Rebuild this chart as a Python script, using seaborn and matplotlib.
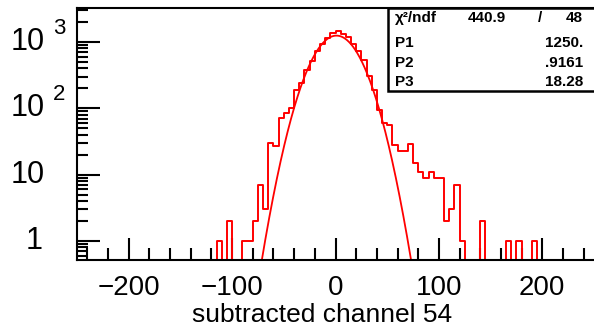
import numpy as np
import pandas as pd
import matplotlib
matplotlib.use("Agg")
import matplotlib.pyplot as plt
import matplotlib.transforms as mtrans
from matplotlib.ticker import MultipleLocator, LogLocator, NullFormatter
from matplotlib.patches import Rectangle
import seaborn as sns

# histogram contents, 5 unit bins, left edges -120 .. 195 (all other bins empty)
bin_lo = list(range(-120, 200, 5))
counts = [0, 1, 0, 2, 0, 0, 1, 1, 2, 7,
          3, 30, 27, 72, 85, 100, 190, 245, 380, 520,
          730, 920, 1150, 1350, 1450, 1300, 1200, 940, 730, 530,
          310, 190, 95, 60, 56, 28, 23, 23, 29, 15,
          11, 9, 11, 9, 9, 2, 3, 7, 1, 0,
          0, 0, 2, 0, 0, 0, 0, 1, 0, 1,
          0, 0, 1, 0]

# gaussian fit, as printed in the stat box
p1, p2, p3 = 1250.0, 0.9161, 18.28
box_rows = [("χ²/ndf", "440.9", "48"), ("P1", "1250.", None),
            ("P2", ".9161", None), ("P3", "18.28", None)]
y_labels = [(1, "1", None), (10, "10", None), (100, "10", "2"), (1000, "10", "3")]

sns.set_theme(style="white")
plt.rcParams["font.family"] = ["Liberation Sans", "DejaVu Sans"]
plt.rcParams["text.color"] = "black"

W, H = 594, 333
fig = plt.figure(figsize=(W / 100, H / 100), dpi=100)
ax = fig.add_axes([77 / W, 1 - 260 / H, 517 / W, 252 / H])

edges = np.arange(-250, 255, 5)
full = np.zeros(len(edges) - 1)
full[(np.array(bin_lo) + 250) // 5] = counts
df = pd.DataFrame({"x": edges[:-1] + 2.5, "n": full})

sns.histplot(data=df, x="x", weights="n", bins=edges.tolist(), element="step",
             fill=False, color="red", lw=1.4, ax=ax)

xf = np.linspace(-80, 80, 400)
fit = pd.DataFrame({"x": xf, "y": p1 * np.exp(-0.5 * ((xf - p2) / p3) ** 2)})
sns.lineplot(data=fit, x="x", y="y", color="red", lw=1.3, ax=ax)

ax.set_yscale("log")
ax.set_xlim(-250, 250)
ax.set_ylim(0.517, 3260)
ax.set_xlabel("")
ax.set_ylabel("")

ax.xaxis.set_major_locator(MultipleLocator(100))
ax.xaxis.set_minor_locator(MultipleLocator(20))
ax.yaxis.set_major_locator(LogLocator(base=10, numticks=10))
ax.yaxis.set_minor_locator(LogLocator(base=10, subs=np.arange(2, 10), numticks=20))
ax.yaxis.set_minor_formatter(NullFormatter())
ax.tick_params(axis="x", which="major", direction="in", length=16, width=1.5,
               color="black", pad=11, labelsize=20, labelcolor="black")
ax.tick_params(axis="x", which="minor", direction="in", length=8.5, width=1.5,
               color="black")
ax.tick_params(axis="y", which="major", direction="in", length=16.5, width=1.5,
               color="black", labelleft=False)
ax.tick_params(axis="y", which="minor", direction="in", length=8, width=1.5,
               color="black")
ax.tick_params(bottom=True, left=True, top=False, right=False, which="both")

for s in ["left", "bottom", "top"]:
    ax.spines[s].set_color("black")
    ax.spines[s].set_linewidth(1.5)
ax.spines["right"].set_visible(False)

# y labels: 1, 10, 10^2, 10^3
ytr = ax.get_yaxis_transform()
for val, base, sup in y_labels:
    xb = (45 - 77) / 517 if base == "10" else (43 - 77) / 517
    ax.text(xb, val, base, transform=ytr, ha="right", va="center", fontsize=22)
    if sup:
        t = mtrans.offset_copy(ytr, fig=fig, x=0, y=14, units="dots")
        ax.text((53 - 77) / 517, val, sup, transform=t, ha="left", va="center", fontsize=16)

fig.text(322 / W, 1 - 322 / H, "subtracted channel 54", ha="center",
         va="baseline", fontsize=19)

# stat box
fig.add_artist(Rectangle((388 / W, 1 - 91 / H), 220 / W, 83 / H,
                         transform=fig.transFigure, facecolor="white",
                         edgecolor="black", lw=1.8, zorder=5))
row_y = [18, 43, 63, 82]
for (lab, val, extra), yy in zip(box_rows, row_y):
    fig.text(395 / W, 1 - yy / H, lab, ha="left", va="center", fontsize=11,
             fontweight="bold", zorder=6)
    if extra:
        fig.text(506 / W, 1 - yy / H, val, ha="right", va="center", fontsize=11,
                 fontweight="bold", zorder=6)
        fig.text(540 / W, 1 - yy / H, "/", ha="center", va="center", fontsize=11,
                 fontweight="bold", zorder=6)
        fig.text(583 / W, 1 - yy / H, extra, ha="right", va="center", fontsize=11,
                 fontweight="bold", zorder=6)
    else:
        fig.text(583 / W, 1 - yy / H, val, ha="right", va="center", fontsize=11,
                 fontweight="bold", zorder=6)

fig.savefig("out.png", dpi=100)
